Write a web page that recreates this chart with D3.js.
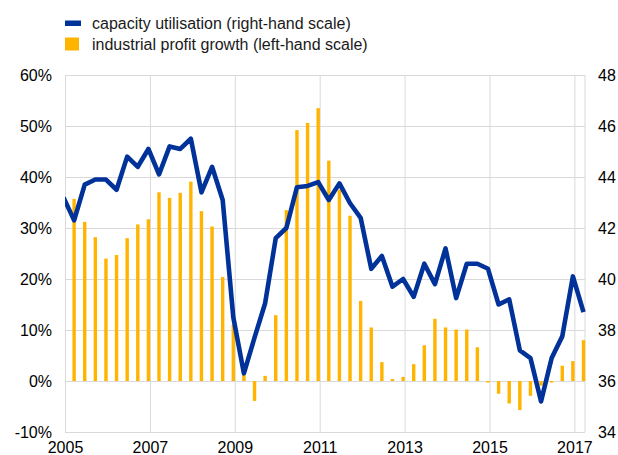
<!DOCTYPE html>
<html>
<head>
<meta charset="utf-8">
<script src="https://cdn.jsdelivr.net/npm/d3@7"></script>
<style>
  html, body { margin: 0; padding: 0; background: #fff; }
  svg { display: block; font-family: "Liberation Sans", Arial, sans-serif; }
</style>
</head>
<body>
<svg id="chart" width="618" height="455"></svg>
<script>
// ---- data (quarterly, 2005Q1 .. 2017Q2) ----
const quarters = [
  "2005Q1","2005Q2","2005Q3","2005Q4","2006Q1","2006Q2","2006Q3","2006Q4",
  "2007Q1","2007Q2","2007Q3","2007Q4","2008Q1","2008Q2","2008Q3","2008Q4",
  "2009Q1","2009Q2","2009Q3","2009Q4","2010Q1","2010Q2","2010Q3","2010Q4",
  "2011Q1","2011Q2","2011Q3","2011Q4","2012Q1","2012Q2","2012Q3","2012Q4",
  "2013Q1","2013Q2","2013Q3","2013Q4","2014Q1","2014Q2","2014Q3","2014Q4",
  "2015Q1","2015Q2","2015Q3","2015Q4","2016Q1","2016Q2","2016Q3","2016Q4",
  "2017Q1","2017Q2"
];
// industrial profit growth, % (left-hand scale)
const profitGrowth = [
  null, 35.7, 31.2, 28.2, 24.0, 24.7, 28.0, 30.7,
  31.7, 37.0, 35.9, 36.9, 39.1, 33.3, 30.3, 20.4,
  11.0, 1.2, -3.9, 1.0, 12.9, 33.5, 49.2, 50.6,
  53.5, 43.2, 37.5, 32.4, 15.7, 10.5, 3.7, 0.4,
  0.8, 3.3, 7.0, 12.2, 10.5, 10.1, 10.1, 6.6,
  -0.3, -2.5, -4.4, -5.7, -2.9, -0.9, -0.3, 3.0,
  3.9, 8.0
];
// capacity utilisation (right-hand scale)
const capacityUtil = [
  43.2, 42.3, 43.7, 43.9, 43.9, 43.5, 44.8, 44.4,
  45.1, 44.1, 45.2, 45.1, 45.5, 43.4, 44.4, 43.1,
  38.5, 36.3, 37.7, 39.05, 41.6, 42.0, 43.6, 43.65,
  43.8, 43.1, 43.75, 42.97, 42.4, 40.4, 40.9, 39.7,
  40.0, 39.3, 40.6, 39.8, 41.2, 39.25, 40.6, 40.6,
  40.4, 39.0, 39.2, 37.2, 36.9, 35.2, 36.9, 37.75,
  40.1, 38.7
];
const leftTicks = [-10, 0, 10, 20, 30, 40, 50, 60];
const rightTicks = [34, 36, 38, 40, 42, 44, 46, 48];
const yearTicks = [2005, 2007, 2009, 2011, 2013, 2015, 2017];
const legendLabels = ["capacity utilisation (right-hand scale)", "industrial profit growth (left-hand scale)"];

// ---- layout ----
const BLUE = "#003299", YELLOW = "#FFB400", GRID = "#d9d9d9";
const plot = { left: 65, right: 585, top: 75, bottom: 432 };
const svg = d3.select("#chart");

const toYear = q => +q.slice(0, 4) + (+q.slice(5) - 1) / 4;
const x = d3.scaleLinear().domain([2005, 2017.25]).range([plot.left, plot.right]);
const markShift = -1.5;
const px = q => x(toYear(q)) + markShift;
const yL = d3.scaleLinear().domain([-10, 60]).range([plot.bottom, plot.top]);
const yR = d3.scaleLinear().domain([34, 48]).range([plot.bottom, plot.top]);

// gridlines
const gy = svg.append("g").attr("transform", `translate(${plot.left},0)`)
  .call(d3.axisLeft(yL).tickValues(leftTicks).tickSize(-(plot.right - plot.left)).tickFormat(""));
gy.select(".domain").remove();
gy.selectAll("line").attr("stroke", GRID).attr("stroke-width", 1);

const gx = svg.append("g").attr("transform", `translate(0,${plot.bottom})`)
  .call(d3.axisBottom(x).tickValues(yearTicks).tickSize(-(plot.bottom - plot.top)).tickFormat(""));
gx.select(".domain").remove();
gx.selectAll("line").attr("stroke", GRID).attr("stroke-width", 1);

svg.append("line").attr("x1", plot.right).attr("x2", plot.right)
  .attr("y1", plot.top).attr("y2", plot.bottom).attr("stroke", GRID);

// clip
svg.append("clipPath").attr("id", "clip").append("rect")
  .attr("x", plot.left).attr("y", plot.top - 5)
  .attr("width", plot.right - plot.left + 1).attr("height", plot.bottom - plot.top + 10);

const marks = svg.append("g").attr("clip-path", "url(#clip)");

// bars
const barW = 3.4;
const barData = quarters.map((q, i) => ({ q, v: profitGrowth[i] })).filter(d => d.v !== null);
marks.selectAll("rect.bar").data(barData).enter().append("rect")
  .attr("class", "bar")
  .attr("x", d => px(d.q) - barW / 2)
  .attr("width", barW)
  .attr("y", d => Math.min(yL(d.v), yL(0)))
  .attr("height", d => Math.abs(yL(d.v) - yL(0)))
  .attr("fill", YELLOW);

// line
const lineData = quarters.map((q, i) => ({ q, v: capacityUtil[i] }));
marks.append("path").datum(lineData)
  .attr("d", d3.line().x(d => px(d.q)).y(d => yR(d.v)))
  .attr("fill", "none").attr("stroke", BLUE).attr("stroke-width", 4.6)
  .attr("stroke-linejoin", "round").attr("stroke-linecap", "butt");

// axis labels
const fs = 16;
const la = svg.append("g").attr("transform", `translate(${plot.left},0)`)
  .call(d3.axisLeft(yL).tickValues(leftTicks).tickSize(0).tickPadding(13).tickFormat(d => d + "%"));
la.select(".domain").remove();
la.selectAll("text").attr("font-size", fs).attr("font-family", "Liberation Sans, Arial, sans-serif").attr("fill", "#000");

const ra = svg.append("g").attr("transform", `translate(${plot.right},0)`)
  .call(d3.axisRight(yR).tickValues(rightTicks).tickSize(0).tickPadding(13).tickFormat(d3.format("d")));
ra.select(".domain").remove();
ra.selectAll("text").attr("font-size", fs).attr("font-family", "Liberation Sans, Arial, sans-serif").attr("fill", "#000");

const xa = svg.append("g").attr("transform", `translate(0,${plot.bottom})`)
  .call(d3.axisBottom(x).tickValues(yearTicks).tickSize(0).tickPadding(10).tickFormat(d3.format("d")));
xa.select(".domain").remove();
xa.selectAll("text").attr("font-size", fs).attr("font-family", "Liberation Sans, Arial, sans-serif").attr("fill", "#000");

// legend
const lg = svg.append("g");
lg.append("rect").attr("x", 65).attr("y", 20.5).attr("width", 16).attr("height", 5.5).attr("fill", BLUE);
lg.append("rect").attr("x", 65).attr("y", 37.5).attr("width", 14).attr("height", 13).attr("fill", YELLOW);
lg.selectAll("text").data(legendLabels).enter().append("text")
  .attr("x", 92).attr("y", (d, i) => i === 0 ? 23.5 : 44.5)
  .attr("dy", "0.35em")
  .attr("font-size", 16).attr("fill", "#1a1a1a")
  .text(d => d);
</script>
</body>
</html>
